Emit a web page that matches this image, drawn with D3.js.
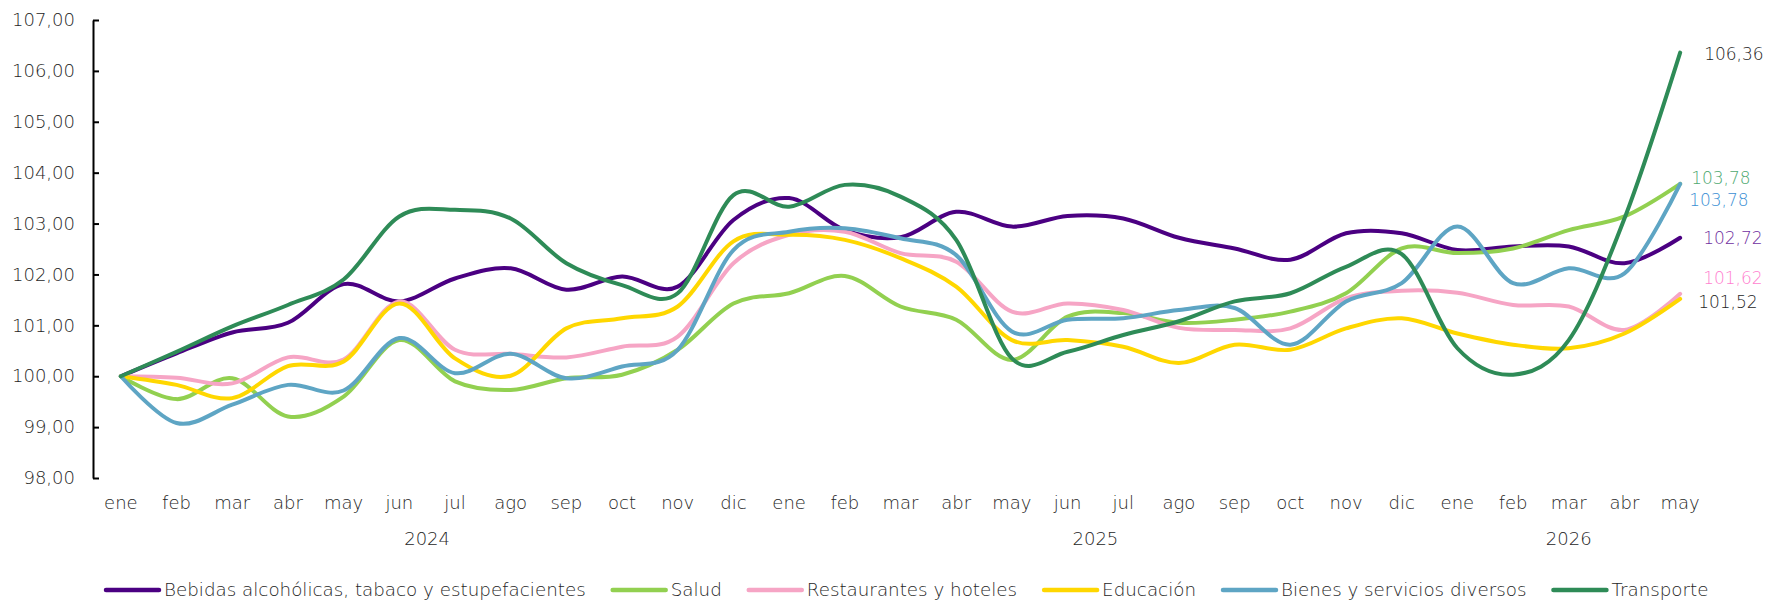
<!DOCTYPE html>
<html>
<head>
<meta charset="utf-8">
<script src="https://cdn.jsdelivr.net/npm/d3@7"></script>
<style>
  body { margin: 0; background: #fff; }
  svg text { font-family: "DejaVu Sans", sans-serif; font-weight: 300; fill: #262626; }
</style>
</head>
<body>
<svg id="chart" width="1768" height="600"></svg>
<script>
var months = ["ene","feb","mar","abr","may","jun","jul","ago","sep","oct","nov","dic",
              "ene","feb","mar","abr","may","jun","jul","ago","sep","oct","nov","dic",
              "ene","feb","mar","abr","may"];
var yearLabels = ["2024", "2025", "2026"];
var yearFirst = [0, 12, 24];
var yearLast = [11, 23, 28];
var yTicks = [98, 99, 100, 101, 102, 103, 104, 105, 106, 107];

var seriesNames = ["Bebidas alcohólicas, tabaco y estupefacientes", "Salud", "Restaurantes y hoteles",
                   "Educación", "Bienes y servicios diversos", "Transporte"];

var bebidas = [100.00, 100.45, 100.86, 101.05, 101.81, 101.47, 101.92, 102.12, 101.70, 101.96, 101.76, 103.07,
               103.50, 102.87, 102.73, 103.23, 102.94, 103.15, 103.10, 102.72, 102.51, 102.29, 102.81, 102.81,
               102.48, 102.55, 102.55, 102.22, 102.72];
var salud = [100.00, 99.55, 99.96, 99.21, 99.60, 100.71, 99.90, 99.73, 99.96, 100.03, 100.52, 101.43,
             101.63, 101.97, 101.37, 101.11, 100.32, 101.17, 101.24, 101.05, 101.11, 101.27, 101.63, 102.51,
             102.42, 102.51, 102.87, 103.14, 103.78];
var restaurantes = [100.00, 99.97, 99.86, 100.37, 100.33, 101.47, 100.52, 100.44, 100.37, 100.58, 100.78, 102.22,
                    102.78, 102.84, 102.42, 102.25, 101.27, 101.43, 101.30, 100.95, 100.91, 100.94, 101.53, 101.68,
                    101.64, 101.40, 101.37, 100.91, 101.62];
var educacion = [100.00, 99.83, 99.57, 100.20, 100.29, 101.43, 100.35, 100.01, 100.94, 101.14, 101.37, 102.65,
                 102.78, 102.68, 102.32, 101.76, 100.71, 100.71, 100.58, 100.26, 100.62, 100.52, 100.94, 101.14,
                 100.84, 100.62, 100.55, 100.84, 101.52];
var bienes = [100.00, 99.08, 99.44, 99.83, 99.72, 100.75, 100.06, 100.44, 99.96, 100.19, 100.52, 102.48,
              102.84, 102.91, 102.71, 102.38, 100.88, 101.11, 101.14, 101.30, 101.34, 100.62, 101.47, 101.83,
              102.94, 101.83, 102.12, 102.02, 103.78];
var transporte = [100.00, 100.48, 100.98, 101.40, 101.90, 103.14, 103.27, 103.10, 102.22, 101.79, 101.63, 103.56,
                  103.33, 103.76, 103.53, 102.68, 100.35, 100.48, 100.81, 101.08, 101.47, 101.63, 102.15, 102.40,
                  100.55, 100.03, 100.71, 103.10, 106.36];

var seriesValues = [bebidas, salud, restaurantes, educacion, bienes, transporte];
var lineColors = ["#4b0082", "#92d050", "#f6a5c5", "#ffd700", "#5ea5c4", "#2e8b57"];
// colours and nudges of the end labels (green/blue labels sit on the same value)
var labelColors = ["#7030a0", "#4ea870", "#ff7fd0", "#262626", "#3b8fd4", "#262626"];
var labelDx = [23, 11, 23, 18, 9, 24];
var labelDy = [0, -6, -16, 3, 16, 1];

var svg = d3.select("#chart");

var x = d3.scalePoint()
    .domain(d3.range(months.length))
    .range([93, 1708])
    .padding(0.5);

var y = d3.scaleLinear()
    .domain([98, 107])
    .range([478, 20]);

drawAxes();
drawLines();
drawEndLabels();
drawLegend();

function fmt(v) {
    return v.toFixed(2).replace(".", ",");
}

function drawAxes() {
    var yAxis = d3.axisLeft(y)
        .tickValues(yTicks)
        .tickFormat(fmt)
        .tickSizeInner(-6)
        .tickSizeOuter(0)
        .tickPadding(18);
    var g = svg.append("g")
        .attr("transform", "translate(93,0)")
        .call(yAxis);
    g.select(".domain").attr("stroke", "#000").attr("stroke-width", 2);
    g.selectAll(".tick line").attr("stroke", "#000").attr("stroke-width", 2);
    g.selectAll(".tick text").attr("font-size", 18);
    g.attr("font-family", null);

    svg.append("g").selectAll("text")
      .data(months)
      .enter()
      .append("text")
        .attr("x", function(d, i) { return x(i); })
        .attr("y", 509)
        .attr("text-anchor", "middle")
        .attr("font-size", 18)
        .text(function(d) { return d; });

    svg.append("g").selectAll("text")
      .data(yearLabels)
      .enter()
      .append("text")
        .attr("x", function(d, i) { return (x(yearFirst[i]) + x(yearLast[i])) / 2; })
        .attr("y", 545)
        .attr("text-anchor", "middle")
        .attr("font-size", 18)
        .text(function(d) { return d; });
}

function drawLines() {
    var line = d3.line()
        .x(function(d, i) { return x(i); })
        .y(function(d) { return y(d); })
        .curve(d3.curveCardinal.tension(0));

    svg.append("g").selectAll("path")
      .data(seriesValues)
      .enter()
      .append("path")
        .attr("fill", "none")
        .attr("stroke", function(d, i) { return lineColors[i]; })
        .attr("stroke-width", 4)
        .attr("stroke-linecap", "round")
        .attr("d", line);
}

function drawEndLabels() {
    var last = months.length - 1;
    svg.append("g").selectAll("text")
      .data(seriesValues)
      .enter()
      .append("text")
        .attr("x", function(d, i) { return x(last) + labelDx[i]; })
        .attr("y", function(d, i) { return y(d[last]) + labelDy[i]; })
        .attr("dy", "0.35em")
        .attr("font-size", 17)
        .style("fill", function(d, i) { return labelColors[i]; })
        .text(function(d) { return fmt(d[last]); });
}

function drawLegend() {
    var g = svg.append("g");
    var cx = 105;
    seriesNames.forEach(function(name, i) {
        g.append("line")
            .attr("x1", cx + 1).attr("x2", cx + 54)
            .attr("y1", 590).attr("y2", 590)
            .attr("stroke", lineColors[i])
            .attr("stroke-width", 4.5)
            .attr("stroke-linecap", "round");
        var t = g.append("text")
            .attr("x", cx + 59)
            .attr("y", 596)
            .attr("font-size", 18.3)
            .text(name);
        cx += 59 + t.node().getComputedTextLength() + 26;
    });
}
</script>
</body>
</html>
